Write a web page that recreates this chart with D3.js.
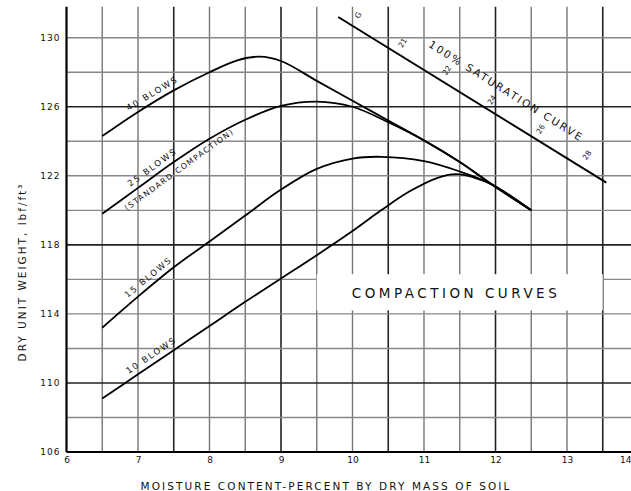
<!DOCTYPE html>
<head>
  <meta charset="utf-8">
  <script src="https://d3js.org/d3.v7.min.js"></script>
  <style>
    body { margin:0; background:#fff; }
    svg { display:block; }
    text { font-family: "DejaVu Sans", sans-serif; fill:#111; }
  </style>
</head>
<body>
<script>
  // moisture content (%) and dry unit weight (lbf/ft3)
  var blows40 = [[6.5,124.3],[7,125.7],[7.5,126.95],[8,128.0],[8.4,128.7],[8.7,128.9],[9,128.65],[9.5,127.5],[10,126.35],[10.5,125.2],[11,124.05],[11.5,122.8],[11.95,121.5],[12.5,120.0]];
  var blows25 = [[6.5,119.8],[7,121.3],[7.5,122.8],[8,124.15],[8.5,125.25],[9,126.05],[9.5,126.3],[10,126.0],[10.5,125.1],[11,124.05],[11.5,122.8],[11.95,121.5],[12.5,120.0]];
  var blows15 = [[6.5,113.2],[7,115.0],[7.5,116.7],[8,118.2],[8.5,119.7],[9,121.2],[9.5,122.4],[10,123.0],[10.4,123.1],[11,122.85],[11.5,122.25],[11.95,121.5],[12.5,120.0]];
  var blows10 = [[6.5,109.1],[7,110.5],[7.5,111.9],[8,113.3],[8.5,114.7],[9,116.05],[9.5,117.4],[10,118.8],[10.4,120.0],[10.8,121.1],[11.2,121.9],[11.45,122.1],[11.7,121.9],[11.95,121.5],[12.5,120.0]];
  var saturation = [[9.8,131.2],[13.55,121.6]];
  var satMarks = [[10.08,131.3,"G"],[10.7,129.7,"21"],[11.32,128.1,"22"],[11.95,126.4,"24"],[12.63,124.7,"26"],[13.28,123.2,"28"]];
  var xTicks = [6,7,8,9,10,11,12,13,14];
  var yTicks = [106,110,114,118,122,126,130];

  var W = 631, H = 491;
  var svg = d3.select('body').append('svg').attr('width', W).attr('height', H);

  var x = d3.scaleLinear().domain([6,14]).range([66.5, 638.5]);
  var y = d3.scaleLinear().domain([106,130]).range([452, 37.7]);
  var yTop = 131.8;

  // grid
  var vGrid = d3.range(6.5, 14.01, 0.5);
  svg.append('g').selectAll('line').data(vGrid).enter().append('line')
    .attr('x1', d => x(d)).attr('x2', d => x(d))
    .attr('y1', y(yTop)).attr('y2', y(106))
    .attr('stroke', d => (d % 1.5 === 0) ? '#222' : '#777')
    .attr('stroke-width', d => (d % 1.5 === 0) ? 1.6 : 1.4);
  var hGrid = d3.range(108, 131, 2);
  svg.append('g').selectAll('line').data(hGrid).enter().append('line')
    .attr('x1', x(6)).attr('x2', W)
    .attr('y1', d => y(d)).attr('y2', d => y(d))
    .attr('stroke', d => (d % 8 === 6) ? '#222' : '#888')
    .attr('stroke-width', d => (d % 8 === 6) ? 1.6 : 1.4);

  // axes
  var yAxis = svg.append('g')
    .attr('transform', 'translate(' + x(6) + ',0)')
    .call(d3.axisLeft(y).tickValues(yTicks).tickSize(0).tickPadding(6));
  yAxis.select('.domain').remove();
  yAxis.selectAll('text').attr('font-size', 9).attr('letter-spacing', 1).attr('font-family', '"DejaVu Sans", sans-serif').attr('fill', '#222');

  var xAxis = svg.append('g')
    .attr('transform', 'translate(0,' + y(106) + ')')
    .call(d3.axisBottom(x).tickValues(xTicks).tickSize(0).tickPadding(5));
  xAxis.select('.domain').remove();
  xAxis.selectAll('text').attr('font-size', 9).attr('font-family', '"DejaVu Sans", sans-serif').attr('fill', '#222');
  // last tick sits past the right edge of the page, pull its label in
  xAxis.selectAll('.tick').filter(d => d === 14).select('text')
    .attr('text-anchor', 'end').attr('x', W - x(14));

  svg.append('line').attr('x1', x(6)).attr('x2', x(6)).attr('y1', y(yTop)).attr('y2', y(106))
    .attr('stroke', '#000').attr('stroke-width', 2.2);
  svg.append('line').attr('x1', x(6)).attr('x2', W).attr('y1', y(106)).attr('y2', y(106))
    .attr('stroke', '#000').attr('stroke-width', 2.2);

  // title box
  svg.append('rect').attr('x', x(9.5)).attr('y', y(116.3)).attr('width', x(13.5) - x(9.5)).attr('height', y(114.2) - y(116.3))
    .attr('fill', '#fff');
  svg.append('text').attr('x', 456).attr('y', y(115.25) + 5.5)
    .attr('text-anchor', 'middle').attr('font-size', 13.5).attr('letter-spacing', 3.5)
    .text('COMPACTION CURVES');

  // curves
  var line = d3.line().x(d => x(d[0])).y(d => y(d[1])).curve(d3.curveCatmullRom.alpha(0.5));
  [blows40, blows25, blows15, blows10].forEach(function(s) {
    svg.append('path').datum(s).attr('d', line)
      .attr('fill', 'none').attr('stroke', '#000').attr('stroke-width', 1.8);
  });
  svg.append('path').datum(saturation).attr('d', d3.line().x(d => x(d[0])).y(d => y(d[1])))
    .attr('fill', 'none').attr('stroke', '#000').attr('stroke-width', 2);

  // labels along curves: (cx, cy) is a point on the curve, off = distance from it
  function label(txt, cx, cy, ang, off, size, ls) {
    svg.append('text')
      .attr('transform', 'translate(' + x(cx) + ',' + y(cy) + ') rotate(' + ang + ')')
      .attr('y', off)
      .attr('text-anchor', 'middle')
      .attr('font-size', size).attr('letter-spacing', ls)
      .text(txt);
  }
  label('40 BLOWS', 7.26, 126.35, -31, -5.5, 8.5, 1.8);
  label('25 BLOWS', 7.27, 122.1, -36, -5.5, 8.5, 1.8);
  label('(STANDARD COMPACTION)', 7.5, 122.8, -36, 12, 7.8, 1.4);
  label('15 BLOWS', 7.22, 115.75, -39.5, -5.5, 8.5, 1.8);
  label('10 BLOWS', 7.25, 111.2, -34, -5.5, 8.5, 1.8);
  label('100% SATURATION CURVE', 12.15, 126.9, 32, 3.5, 10.5, 2);

  satMarks.forEach(function(m) {
    svg.append('text')
      .attr('transform', 'translate(' + x(m[0]) + ',' + y(m[1]) + ') rotate(-58)')
      .attr('text-anchor', 'middle').attr('dominant-baseline', 'central')
      .attr('font-size', 7.5).text(m[2]);
  });

  // axis titles
  svg.append('text')
    .attr('transform', 'translate(22,272) rotate(-90)')
    .attr('text-anchor', 'middle').attr('dominant-baseline', 'central')
    .attr('font-size', 10.5).attr('letter-spacing', 2)
    .text('DRY UNIT WEIGHT,  lbf/ft\u00b3');
  svg.append('text').attr('x', 326).attr('y', 490)
    .attr('text-anchor', 'middle').attr('font-size', 10.5).attr('letter-spacing', 2.1)
    .text('MOISTURE CONTENT-PERCENT  BY  DRY  MASS OF SOIL');
</script>
</body>
